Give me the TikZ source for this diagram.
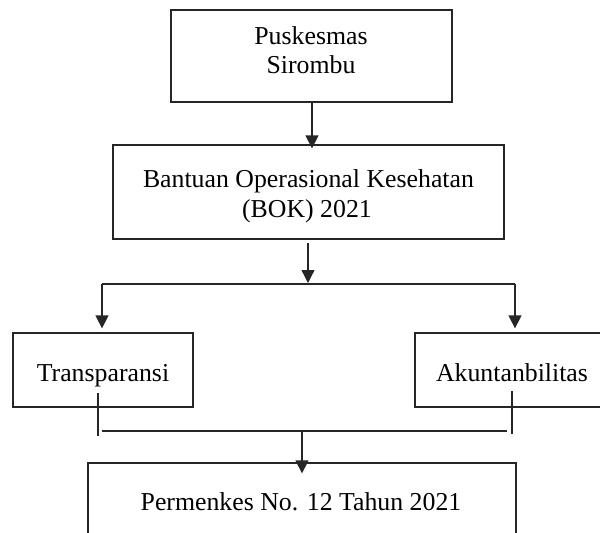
\documentclass[tikz,border=0pt]{standalone}
\usepackage{fontspec}
\setmainfont{Liberation Serif}
\usetikzlibrary{arrows.meta}
\begin{document}
\begin{tikzpicture}[x=1pt,y=-1pt,
  box/.style={draw=black!85,line width=1.3pt,rectangle,inner sep=0pt},
  lbl/.style={inner sep=0pt,anchor=base,font=\fontsize{25.8}{30}\selectfont},
  conn/.style={draw=black!85,line width=1.3pt},
  arr/.style={conn,-{Triangle[length=13pt,width=13pt]}}]
\useasboundingbox (0,0) rectangle (600,533);
\clip (0,0) rectangle (600,533);
% boxes
\node[box,minimum width=281pt,minimum height=92pt] (pusk) at (311.5,56) {};
\node[box,minimum width=391pt,minimum height=94pt] (bok) at (308.5,192) {};
\node[box,minimum width=180pt,minimum height=74pt] (trans) at (103,370) {};
\node[box,minimum width=194pt,minimum height=74pt] (akun) at (512,370) {};
\node[box,minimum width=428pt,minimum height=80pt] (perm) at (302,503) {};
% texts
\node[lbl] (t1a) at (311,44) {Puskesmas};
\node[lbl] (t1b) at (311,73) {Sirombu};
\node[lbl] (t2a) at (308.5,187) {Bantuan Operasional Kesehatan};
\node[lbl] (t2b) at (307,217) {(BOK) 2021};
\node[lbl] (t3) at (103,381) {Transparansi};
\node[lbl] (t4) at (512,381) {Akuntanbilitas};
\node[lbl] (t5) at (301,510) {Permenkes No. 12 Tahun 2021};
% top arrow
\draw[arr,shorten >=-4pt] (pusk.south -| 312,0) -- (bok.north -| 312,0);
% split
\coordinate (bs) at (308,243);
\coordinate (bm) at (308,283);
\coordinate (hl) at (102,284);
\coordinate (hr) at (515,284);
\draw[arr] (bs) -- (bm);
\draw[conn] (hl) -- (hr);
\draw[arr,shorten >=4pt] (hl) -- (hl |- trans.north);
\draw[arr,shorten >=4pt] (hr) -- (hr |- akun.north);
% join
\coordinate (ta) at (98,393);
\coordinate (tb) at (98,436);
\coordinate (aa) at (512,391);
\coordinate (ab) at (512,434);
\coordinate (jl) at (102,431);
\coordinate (jr) at (507,431);
\coordinate (jm) at (302,431);
\draw[conn] (ta) -- (tb);
\draw[conn] (aa) -- (ab);
\draw[conn] (jl) -- (jr);
\draw[arr,shorten >=-11pt] (jm) -- (perm.north);
\end{tikzpicture}
\end{document}
